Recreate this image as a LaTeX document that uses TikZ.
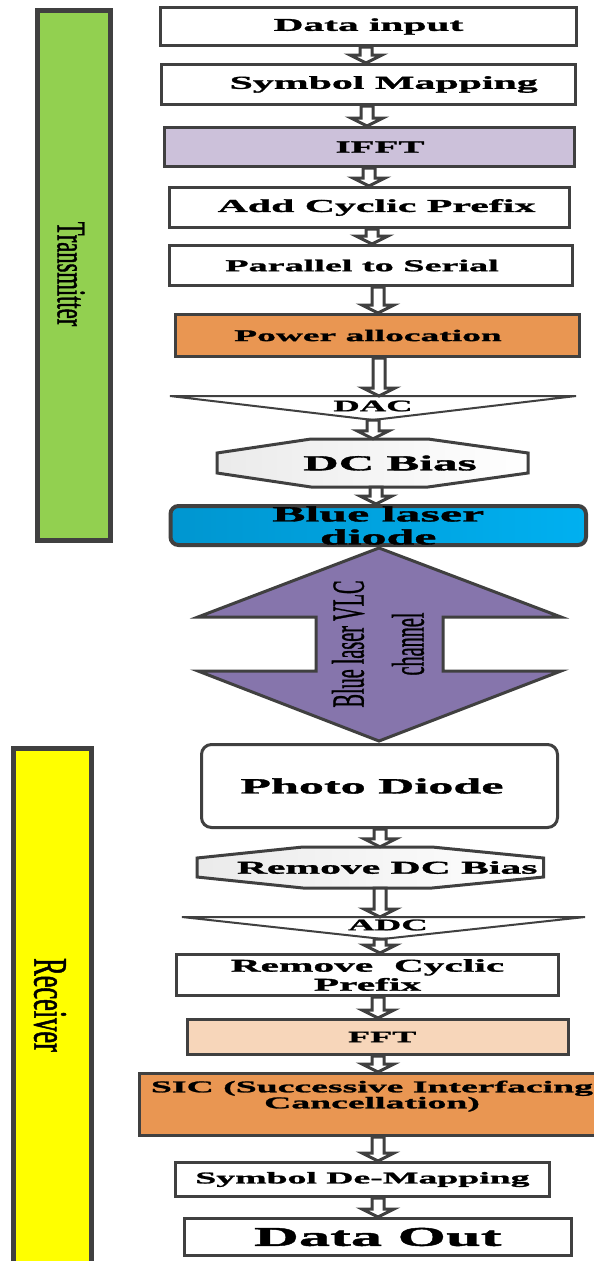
\documentclass[tikz,border=0pt]{standalone}
\usepackage{fontspec}
\usepackage{tikz}
\usetikzlibrary{calc}
\newfontfamily\boxfont[FakeStretch=2.3, FakeBold=1.6]{Liberation Serif Bold}
\newfontfamily\sidefont[FakeStretch=0.55, FakeBold=1]{Liberation Serif}
\newfontfamily\vlcfont[FakeStretch=0.44, FakeBold=0.6]{Liberation Serif}
\definecolor{edge}{RGB}{64,64,64}
\definecolor{txgreen}{RGB}{146,208,80}
\definecolor{rxyellow}{RGB}{255,255,0}
\definecolor{lilac}{RGB}{204,193,218}
\definecolor{powerorange}{RGB}{233,150,82}
\definecolor{peach}{RGB}{247,214,186}
\definecolor{laserdeep}{RGB}{0,150,208}
\definecolor{laserlight}{RGB}{0,176,240}
\definecolor{vlcpurple}{RGB}{134,117,172}
\tikzset{
  flow box/.style={
    draw=edge,
    line width=3pt,
    fill=white,
    inner sep=0pt,
    align=center
  },
  box font/.style={
    font=\boxfont\fontsize{#1}{#1}\selectfont
  },
  side bar/.style={
    draw=edge,
    line width=5pt,
    inner sep=0pt
  },
  shape label/.style={
    inner sep=0pt,
    align=center
  },
  hex shape/.style={
    draw=edge,
    line width=3pt,
    left color=black!8,
    right color=white
  },
  converter/.style={
    draw=edge,
    line width=2pt,
    fill=white
  },
  hollow arrow/.style={
    draw=edge,
    line width=3pt,
    fill=white,
    to path={let \p1=(\tikztostart), \p2=(\tikztotarget) in
      (#1pt-6pt,\y1) -- (#1pt-6pt,\y2+8pt) -- (#1pt-16pt,\y2+8pt) -- (#1pt,\y2)
      -- (#1pt+16pt,\y2+8pt) -- (#1pt+6pt,\y2+8pt) -- (#1pt+6pt,\y1) -- cycle}
  }
}

\begin{document}
\begin{tikzpicture}[x=1pt, y=-1pt]
    \path[fill=white, use as bounding box] (0,0) rectangle (594,1261);

    % side bars
    \node[side bar, fill=txgreen, minimum width=73, minimum height=530] (txbar) at (74,275.5) {};
    \node[shape label, rotate=-90, font=\sidefont\fontsize{41}{41}\selectfont] (txlabel) at (71,274) {Transmitter};
    \node[side bar, fill=rxyellow, minimum width=78, minimum height=530] (rxbar) at (52.5,1013.5) {};
    \node[shape label, rotate=-90, font=\sidefont\fontsize{48}{48}\selectfont] (rxlabel) at (50,1005) {Receiver};

    % transmitter chain
    \node[flow box, box font=18, minimum width=416, minimum height=38] (dinput) at (368.5,26.5) {Data input};
    \node[flow box, box font=18.2, minimum width=413.5, minimum height=40] (smap) at (368.25,84.5) {\hspace*{31pt}Symbol Mapping};
    \node[flow box, fill=lilac, box font=17, minimum width=410, minimum height=39] (ifft) at (369.5,147) {\hspace*{21pt}IFFT};
    \node[flow box, box font=18.2, minimum width=400, minimum height=40] (acp) at (369.5,207.5) {\hspace*{14pt}Add Cyclic Prefix};
    \node[flow box, box font=16.6, minimum width=403, minimum height=40] (ptos) at (371,265.5) {Parallel to Serial\hspace*{18pt}};
    \node[flow box, fill=powerorange, box font=16.3, minimum width=404, minimum height=42] (power) at (377.5,335.5) {Power allocation\hspace*{19pt}};

    % DAC
    \draw[converter] (170,396) -- (576,396) -- (373,420) -- cycle;
    \node[shape label, box font=15.9] (dac) at (373,406) {DAC};
    \coordinate (dactop) at (373,396);
    \coordinate (dactip) at (373,420);

    % DC bias
    \draw[hex shape] (217,453) -- (311,439) -- (428,439) -- (528,453) -- (528,473) -- (428,487) -- (311,487) -- (217,473) -- cycle;
    \node[shape label, box font=21.4, minimum width=311, minimum height=48] (dcbias) at (372.5,463) {\hspace*{35pt}DC Bias};

    \node[flow box, rounded corners=8pt, line width=4pt, left color=laserdeep, right color=laserlight,
          font=\boxfont\fontsize{21.7}{23}\selectfont, minimum width=415.5, minimum height=39] (laser) at (378.25,525.5) {Blue laser\\diode};

    % channel
    \draw[draw=edge, line width=3pt, fill=vlcpurple] (379,548) -- (561,617) -- (443,617) -- (443,671) -- (561,671)
      -- (379,741) -- (198,671) -- (316,671) -- (316,617) -- (198,617) -- cycle;
    \node[shape label, rotate=90, font=\vlcfont\fontsize{46}{60}\selectfont] (vlc) at (378,644) {Blue laser VLC\\channel};

    % receiver chain
    \node[flow box, rounded corners=10pt, box font=21.8, minimum width=356, minimum height=83] (photo) at (379.5,786) {Photo Diode\hspace*{15pt}};
    \draw[hex shape] (197,858) -- (303,847) -- (432,847) -- (543.5,858) -- (543.5,877) -- (432,888) -- (303,888) -- (197,877) -- cycle;
    \node[shape label, box font=18.1, minimum width=346.5, minimum height=41] (rdc) at (370.25,867.5) {\hspace*{34pt}Remove DC Bias};

    % ADC
    \draw[converter] (182,917) -- (585,917) -- (382.5,939) -- cycle;
    \node[shape label, box font=16] (adc) at (388,925) {ADC};
    \coordinate (adctop) at (382.5,917);
    \coordinate (adctip) at (382.5,939);

    \node[flow box, font=\boxfont\fontsize{18}{19}\selectfont, minimum width=382, minimum height=41] (rcp) at (367.5,975) {Remove~~Cyclic\\Prefix};
    \node[flow box, fill=peach, box font=15.7, minimum width=381.5, minimum height=35] (fft) at (377.75,1037) {\hspace*{9pt}FFT};
    \node[flow box, fill=powerorange, font=\boxfont\fontsize{16.4}{16}\selectfont, minimum width=465, minimum height=62] (sic) at (372,1104.5) {SIC (Successive Interfacing\\Cancellation)\\[4pt]};
    \node[flow box, box font=16.4, minimum width=374, minimum height=34] (sdm) at (362.5,1179.5) {Symbol De-Mapping};
    \node[flow box, box font=27.1, minimum width=387.5, minimum height=37] (dout) at (377.75,1237) {Data Out};

    % hollow arrows
    \draw[hollow arrow=366] (dinput.south) to (smap.north);
    \draw[hollow arrow=367] (smap.south) to (ifft.north);
    \draw[hollow arrow=369] (ifft.south) to (acp.north);
    \draw[hollow arrow=372] (acp.south) to (ptos.north);
    \draw[hollow arrow=378] (ptos.south) to (power.north);
    \draw[hollow arrow=379] (power.south) to (dactop);
    \draw[hollow arrow=373] (dactip) to (dcbias.north);
    \draw[hollow arrow=376] (dcbias.south) to (laser.north);
    \draw[hollow arrow=380] (photo.south) to (rdc.north);
    \draw[hollow arrow=380] (rdc.south) to (adctop);
    \draw[hollow arrow=380] (adctip) to (rcp.north);
    \draw[hollow arrow=378] (rcp.south) to (fft.north);
    \draw[hollow arrow=378] (fft.south) to (sic.north);
    \draw[hollow arrow=378] (sic.south) to (sdm.north);
    \draw[hollow arrow=378] (sdm.south) to (dout.north);
\end{tikzpicture}
\end{document}
